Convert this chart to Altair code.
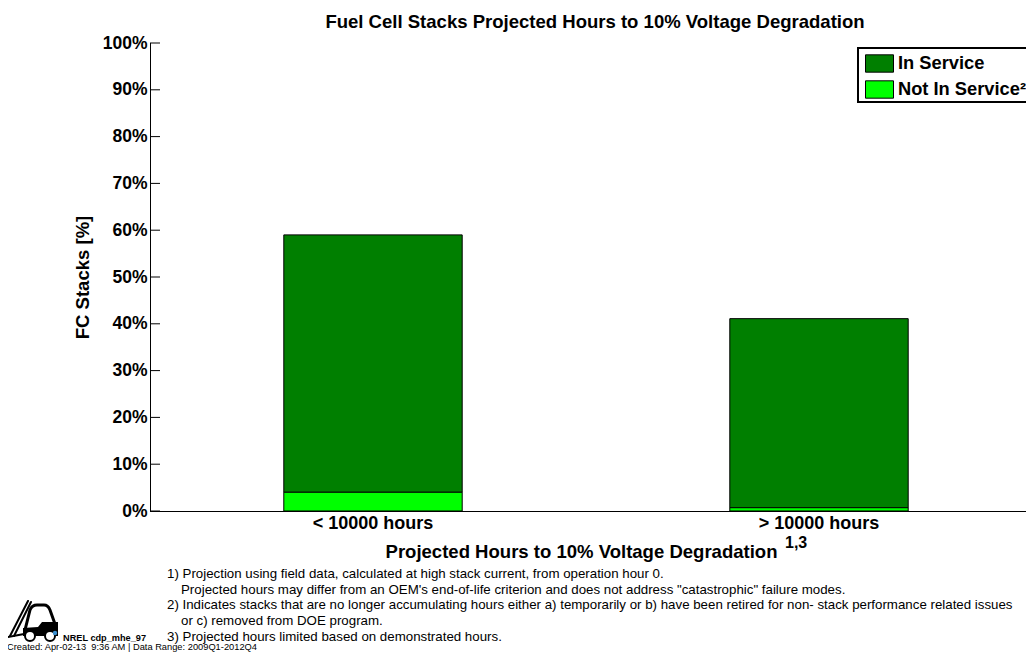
import altair as alt
import pandas as pd
import urllib.parse

categories = ["< 10000 hours", "> 10000 hours"]
in_service = [55.0, 40.4]
not_in_service = [4.0, 0.7]
series_names = ["In Service", "Not In Service²"]
series_colors = ["#007f00", "#00ff00"]
y_ticks = [0, 10, 20, 30, 40, 50, 60, 70, 80, 90, 100]
FONT = "Liberation Sans"

rows = []
for c, a, b in zip(categories, in_service, not_in_service):
    rows.append({"cat": c, "series": series_names[0], "value": a, "ord": 1})
    rows.append({"cat": c, "series": series_names[1], "value": b, "ord": 0})
df = pd.DataFrame(rows)

W, H = 876, 468
xscale = alt.Scale(domain=categories, range=[0, 892], paddingInner=0.6, paddingOuter=0.3)
yscale = alt.Scale(domain=[0, 100], nice=False)

bars = alt.Chart(df).mark_bar(stroke="black", strokeWidth=1).encode(
    x=alt.X("cat:N", scale=xscale, sort=categories,
            axis=alt.Axis(title="Projected Hours to 10% Voltage Degradation", labelAngle=0,
                          labelFont=FONT, labelFontSize=18, labelFontWeight="bold", labelColor="black",
                          labelPadding=3, ticks=False, domainColor="black", domainWidth=1,
                          titleFont=FONT, titleFontSize=18.55, titleFontWeight="bold", titleColor="black",
                          titleX=431, titleY=46, titleAnchor="middle", titleBaseline="alphabetic")),
    y=alt.Y("value:Q", stack="zero", scale=yscale,
            axis=alt.Axis(values=y_ticks, format=".0f", labelExpr="datum.label + '%'", title="FC Stacks [%]",
                          grid=False, ticks=False, domainColor="black", domainWidth=1,
                          labelFont=FONT, labelFontSize=17.5, labelFontWeight="bold", labelColor="black",
                          labelPadding=3,
                          titleFont=FONT, titleFontSize=18.55, titleFontWeight="bold", titleColor="black",
                          titleX=-58, titleY=234, titleAnchor="middle")),
    color=alt.Color("series:N", scale=alt.Scale(domain=series_names, range=series_colors),
                    legend=alt.Legend(title=None, orient="none", legendX=708, legendY=5,
                                      fillColor="white", strokeColor="black",
                                      symbolType="M-1,-0.62H1V0.62H-1Z", symbolSize=784,
                                      symbolOffset=6,
                                      symbolStrokeColor="black", symbolStrokeWidth=1, symbolOpacity=1,
                                      labelFont=FONT, labelFontSize=18.3, labelFontWeight="bold",
                                      labelColor="black", labelOffset=4, rowPadding=0, padding=1,
                                      labelLimit=300)),
    order=alt.Order("ord:Q"),
)

ticks = alt.Chart(pd.DataFrame({"t": y_ticks})).mark_rule(color="black", strokeWidth=1).encode(
    y=alt.Y("t:Q", scale=yscale), x=alt.value(0), x2=alt.value(10))

def txt(s, x, y, size, bold=False, color="black", align="left"):
    return alt.Chart(pd.DataFrame({"t": [s]})).mark_text(
        font=FONT, fontSize=size, fontWeight="bold" if bold else "normal", color=color,
        align=align, baseline="alphabetic").encode(x=alt.value(x), y=alt.value(y), text="t:N")

# pixel offsets relative to plot origin (150, 43)
OX, OY = 150, 43
notes = [
    ("1) Projection using field data, calculated at high stack current, from operation hour 0.", 167, 578),
    ("Projected hours may differ from an OEM's end-of-life criterion and does not address \"catastrophic\" failure modes.", 181, 594),
    ("2) Indicates stacks that are no longer accumulating hours either a) temporarily or b) have been retired for non- stack performance related issues", 167, 609),
    ("or c) removed from DOE program.", 181, 625),
    ("3) Projected hours limited based on demonstrated hours.", 167, 641),
]
logo_svg = (
    '<svg xmlns="http://www.w3.org/2000/svg" width="52" height="42" viewBox="0 0 52 42">'
    '<g fill="none" stroke="black" stroke-linecap="round">'
    '<path d="M20,1 L2,36" stroke-width="2"/><path d="M23,2 L6,36" stroke-width="2"/>'
    '<path d="M0,37 L16,34" stroke-width="2"/>'
    '<path d="M17,30 L22,10 Q24,5 29,5 H36 Q40,5 42,10 L47,24" stroke-width="3"/></g>'
    '<path d="M15,28 L30,27 L34,22 H50 V36 H15 Z" fill="black"/>'
    '<circle cx="22" cy="36" r="5" fill="white" stroke="black" stroke-width="2"/>'
    '<circle cx="42" cy="36" r="5" fill="white" stroke="black" stroke-width="2"/>'
    '<circle cx="47" cy="33" r="2.2" fill="#3a8fd0"/></svg>'
)
logo_url = "data:image/svg+xml;utf8," + urllib.parse.quote(logo_svg)

layers = [bars, ticks]
layers.append(txt("Fuel Cell Stacks Projected Hours to 10% Voltage Degradation", 595 - OX, 28 - OY, 18.55, True, align="center"))
layers.append(txt("1,3", 785 - OX, 548 - OY, 16, True))
for s, x, y in notes:
    layers.append(txt(s, x - OX, y - OY, 13.3))
layers.append(txt("NREL cdp_mhe_97", 63 - OX, 641 - OY, 9.2, True))
layers.append(txt("Created: Apr-02-13 \u00a09:36 AM | Data Range: 2009Q1-2012Q4", 7 - OX, 650 - OY, 9.3))
layers.append(alt.Chart(pd.DataFrame({"u": [logo_url]})).mark_image(
    width=52, height=42, align="left", baseline="top").encode(
    x=alt.value(8 - OX), y=alt.value(600 - OY), url="u:N"))

chart = alt.layer(*layers).properties(
    width=W, height=H,
    padding={"left": 142, "top": 35, "right": 0, "bottom": 141},
    autosize=alt.AutoSizeParams(type="none"),
).configure_view(stroke=None).configure_axis(domainCap="square").configure_legend(strokeWidth=2)

chart.save("out.html", embed_options={"renderer": "svg", "actions": False})
